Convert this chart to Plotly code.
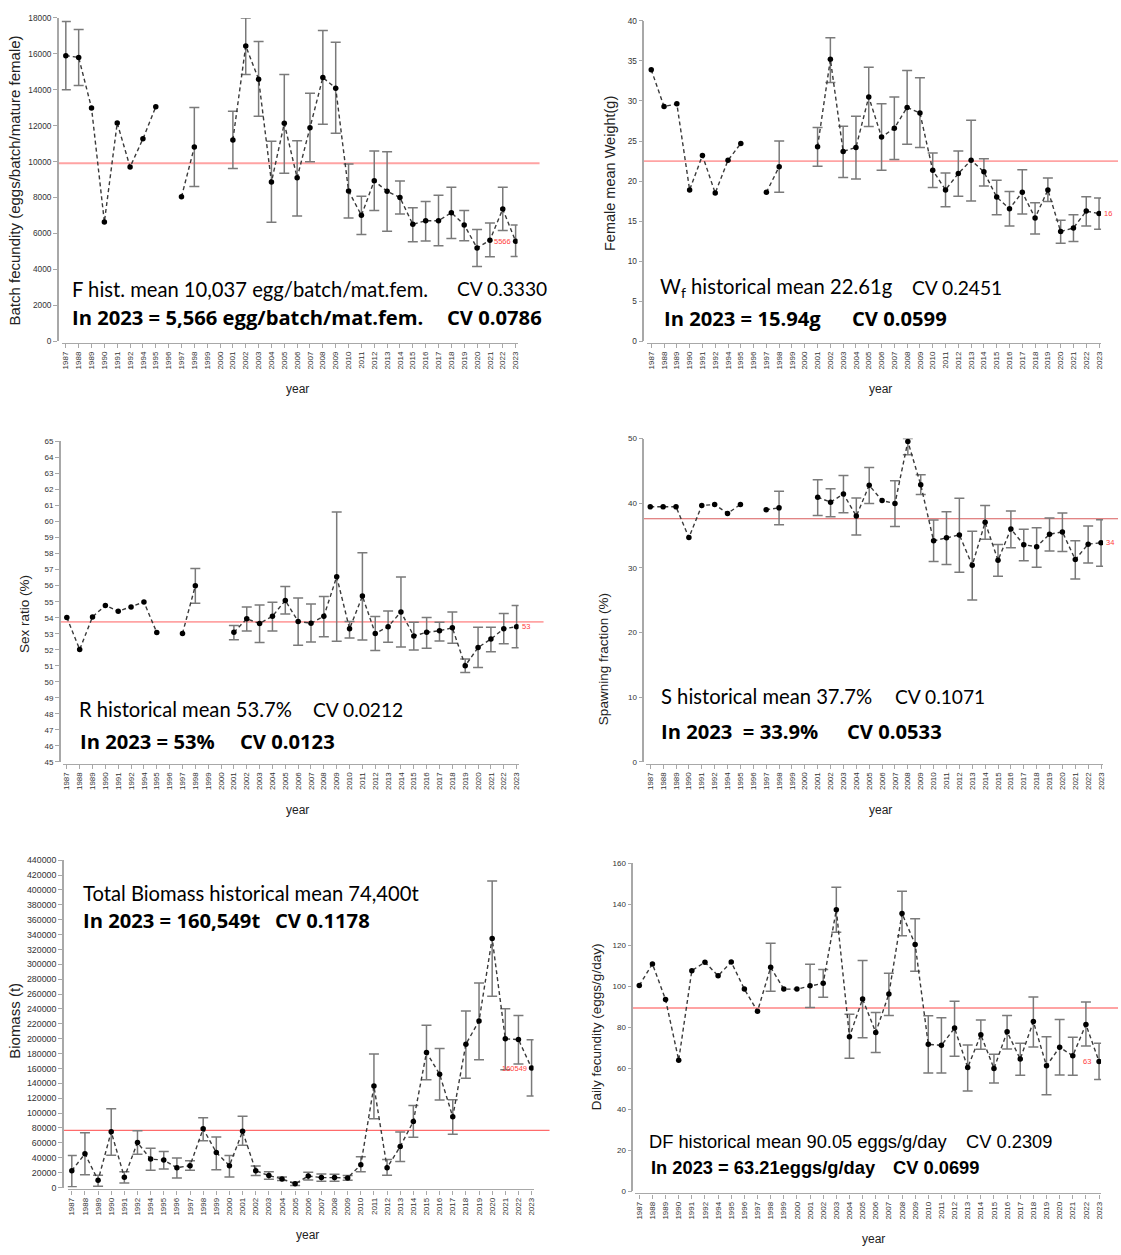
import plotly.graph_objects as go

W, H = 1121, 1255

years = ['1987', '1988', '1989', '1990', '1991', '1992', '1994', '1995', '1996', '1997',
         '1998', '1999', '2000', '2001', '2002', '2003', '2004', '2005', '2006', '2007',
         '2008', '2009', '2010', '2011', '2012', '2013', '2014', '2015', '2016', '2017',
         '2018', '2019', '2020', '2021', '2022', '2023']
N = None

# ---- Batch fecundity (eggs/batch/mature female)
fec_val = [15900, 15800, 12990, 6640, 12150, 9700, 11270, 13060, N, 8040,
           10810, N, N, 11210, 16440, 14590, 8860, 12130, 9100, 11890,
           14680, 14090, 8370, 7010, 8930, 8350, 8000, 6510, 6710, 6710,
           7160, 6480, 5190, 5630, 7360, 5566]
fec_hi = [17800, 17360, N, N, N, N, N, N, N, N,
          13010, N, N, 12810, 18000, 16680, 11140, 14850, 11160, 13800,
          17300, 16640, 9870, 8070, 10590, 10550, 8920, 7430, 7780, 8130,
          8570, 7285, 6220, 6590, 8570, 6480]
fec_lo = [14000, 14240, N, N, N, N, N, N, N, N,
          8610, N, N, 9615, 14850, 12530, 6625, 9360, 6970, 10000,
          12075, 11580, 6860, 5945, 7285, 6130, 7080, 5540, 5580, 5320,
          5725, 5600, 4165, 4700, 6165, 4715]
fec_mean = 9910

# ---- Female mean weight (g)
wf_val = [33.9, 29.3, 29.65, 18.9, 23.2, 18.5, 22.6, 24.7, N, 18.6,
          21.8, N, N, 24.3, 35.2, 23.7, 24.2, 30.5, 25.5, 26.6,
          29.2, 28.5, 21.35, 18.9, 20.95, 22.6, 21.15, 18.0, 16.55, 18.6,
          15.4, 18.9, 13.7, 14.15, 16.25, 15.94]
wf_hi = [N, N, N, N, N, N, N, N, N, N,
         25.0, N, N, 26.7, 37.9, 26.85, 28.1, 34.2, 29.65, 30.5,
         33.8, 32.9, 23.5, 21.0, 23.75, 27.6, 22.8, 20.1, 18.7, 21.4,
         17.3, 20.4, 15.1, 15.8, 18.05, 17.9]
wf_lo = [N, N, N, N, N, N, N, N, N, N,
         18.6, N, N, 21.85, 32.3, 20.45, 20.25, 26.8, 21.35, 22.7,
         24.6, 24.2, 19.2, 16.8, 18.1, 17.5, 19.4, 15.8, 14.4, 15.9,
         13.4, 17.45, 12.25, 12.45, 14.4, 14.0]
wf_mean = 22.5

# ---- Sex ratio (%)
sr_val = [54.01, 52.02, 54.05, 54.77, 54.4, 54.67, 54.98, 53.07, N, 53.02,
          55.99, N, N, 53.09, 53.93, 53.64, 54.09, 55.08, 53.77, 53.66,
          54.09, 56.56, 53.31, 55.35, 53.02, 53.44, 54.36, 52.86, 53.09, 53.19,
          53.37, 51.0, 52.14, 52.67, 53.31, 53.44]
sr_hi = [N, N, N, N, N, N, N, N, N, N,
         57.08, N, N, 53.52, 54.67, 54.8, 54.96, 55.95, 55.23, 54.86,
         55.33, 60.6, 53.77, 58.05, 54.07, 54.42, 56.54, 53.72, 54.01, 53.72,
         54.36, 51.42, 53.4, 53.4, 54.26, 54.77]
sr_lo = [N, N, N, N, N, N, N, N, N, N,
         54.9, N, N, 52.63, 53.17, 52.45, 53.17, 54.24, 52.28, 52.49,
         52.82, 52.53, 52.74, 52.61, 51.95, 52.47, 52.18, 51.98, 52.1, 52.55,
         52.41, 50.58, 50.9, 51.87, 52.37, 52.12]
sr_mean = 53.74

# ---- Spawning fraction (%)
sf_val = [39.44, 39.44, 39.44, 34.69, 39.64, 39.8, 38.42, 39.8, N, 38.98,
          39.29, N, N, 40.92, 40.15, 41.43, 38.01, 42.76, 40.41, 39.95,
          49.54, 42.86, 34.18, 34.64, 35.1, 30.41, 37.04, 31.17, 36.02, 33.57,
          33.27, 35.2, 35.56, 31.28, 33.67, 33.88]
sf_hi = [N, N, N, N, N, N, N, N, N, N,
         41.84, N, N, 43.62, 42.24, 44.29, 40.82, 45.51, N, 43.47,
         50.0, 44.39, 37.4, 38.67, 40.77, 35.66, 39.64, 33.62, 38.78, 35.97,
         36.22, 37.7, 38.47, 34.18, 36.48, 37.45]
sf_lo = [N, N, N, N, N, N, N, N, N, N,
         36.68, N, N, 38.11, 37.91, 38.52, 35.1, 39.95, N, 36.38,
         47.5, 41.33, 30.97, 30.51, 29.34, 25.05, 34.44, 28.72, 33.11, 31.12,
         30.1, 32.6, 32.55, 28.27, 30.77, 30.26]
sf_mean = 37.6

# ---- Biomass (t)
bm_val = [22600, 45300, 9770, 75000, 13760, 60400, 38200, 36850, 26640, 29300,
          79000, 47060, 29300, 75500, 22650, 16000, 11500, 4880, 15500, 13300,
          13300, 12900, 30600, 136300, 26600, 55000, 88800, 181600, 152300, 95000,
          192700, 223800, 334800, 199800, 198900, 160549]
bm_hi = [43000, 73700, 16400, 105700, 21300, 76400, 52800, 48400, 39500, 36000,
         93700, 67900, 43000, 95900, 28900, 21300, 14200, 7100, 20400, 18200,
         17800, 16000, 41300, 179400, 37700, 74600, 110100, 218000, 186900, 118100,
         237100, 274800, 412000, 240200, 231300, 198500]
bm_lo = [900, 17300, 1800, 43500, 6200, 44800, 23100, 24900, 12900, 23100,
         63000, 24000, 14200, 56800, 16000, 11100, 9300, 2700, 10200, 8400,
         8400, 9800, 21300, 92400, 16400, 35000, 67500, 144700, 117700, 71500,
         147000, 171800, 257000, 158100, 166100, 123000]
bm_mean = 76800

# ---- Daily fecundity (eggs/g/day)
df_val = [100.4, 110.9, 93.5, 64.0, 107.6, 111.7, 105.1, 111.8, 98.6, 87.8,
          109.2, 98.6, 98.6, 100.2, 101.5, 137.3, 75.4, 93.8, 77.5, 96.2,
          135.5, 120.4, 71.7, 71.2, 79.6, 60.4, 76.4, 59.9, 77.8, 64.5,
          82.8, 61.2, 70.3, 66.1, 81.4, 63.3]
df_hi = [N, N, N, N, N, N, N, N, N, N,
         121.0, N, N, 110.7, 108.1, 148.2, 86.4, 112.5, 87.2, 106.3,
         146.3, 132.9, 85.6, 84.6, 92.7, 71.4, 83.5, 66.9, 85.7, 72.2,
         94.7, 75.4, 83.8, 75.1, 92.3, 72.2]
df_lo = [N, N, N, N, N, N, N, N, N, N,
         97.6, N, N, 89.7, 94.6, 126.3, 64.9, 74.9, 67.7, 85.7,
         124.6, 107.3, 57.7, 57.7, 65.9, 49.0, 69.3, 52.9, 69.4, 56.6,
         70.4, 47.1, 56.7, 56.6, 70.9, 54.5]
df_mean = 89.4

# ---- texts
txt = {
    1: ("F hist. mean 10,037 egg/batch/mat.fem.", "CV 0.3330",
        "In 2023 = 5,566 egg/batch/mat.fem.", "CV 0.0786", "5566"),
    2: ("W<sub>f</sub> historical mean 22.61g", "CV 0.2451",
        "In 2023 = 15.94g", "CV 0.0599", "16"),
    3: ("R historical mean 53.7%", "CV 0.0212",
        "In 2023 = 53%", "CV 0.0123", "53"),
    4: ("S historical mean 37.7%", "CV 0.1071",
        "In 2023\u00a0 = 33.9%", "CV 0.0533", "34"),
    5: ("Total Biomass historical mean 74,400t", None,
        "In 2023 = 160,549t", "CV 0.1178", "160549"),
    6: ("DF historical mean 90.05 eggs/g/day", "CV 0.2309",
        "In 2023 = 63.21eggs/g/day", "CV 0.0699", "63"),
}
ytitles = {1: "Batch fecundity (eggs/batch/mature female)", 2: "Female mean Weight(g)",
           3: "Sex ratio (%)", 4: "Spawning fraction (%)", 5: "Biomass (t)",
           6: "Daily fecundity (eggs/g/day)"}

series = {1: (fec_val, fec_hi, fec_lo, fec_mean), 2: (wf_val, wf_hi, wf_lo, wf_mean),
          3: (sr_val, sr_hi, sr_lo, sr_mean), 4: (sf_val, sf_hi, sf_lo, sf_mean),
          5: (bm_val, bm_hi, bm_lo, bm_mean), 6: (df_val, df_hi, df_lo, df_mean)}

REG = 'Lato'
BOLD = 'Open Sans'
ARIAL = 'Liberation Sans'

# geometry (pixels)
geo = {
    1: dict(yx=58, yt=13, yb=339, r=(0, 18000), dt=2000, x0=66, x1=517, xs=62, xe=519, me=541,
            t1=(70, 286), c1=456, t2=(70, 315), c2=446, yt_xy=(15, 177), yts=15, year=(298, 387),
            mcol='#ffa3a3', mw=1.8, lab='left', lsh=-3, tk=8.3),
    2: dict(yx=645, yt=16, yb=339, r=(0, 40), dt=5, x0=653, x1=1102, xs=649, xe=1104, me=1121,
            t1=(660, 285), c1=912, t2=(664, 316), c2=852, yt_xy=(611, 170), yts=14.5, year=(883, 387),
            mcol='#ffa3a3', mw=1.8, lab='right', lsh=3, tk=8.3),
    3: dict(yx=60, yt=440, yb=763, r=(45, 65), dt=1, x0=67, x1=518, xs=63, xe=520, me=545,
            t1=(77, 710), c1=312, t2=(78, 742), c2=239, yt_xy=(24, 614), yts=13.5, year=(298, 811),
            mcol='#ffa3a3', mw=1.8, lab='right', lsh=3, tk=8),
    4: dict(yx=645, yt=437, yb=763, r=(0, 50), dt=10, x0=652, x1=1104, xs=648, xe=1106, me=1121,
            t1=(661, 697), c1=895, t2=(661, 732), c2=847, yt_xy=(605, 659), yts=13.5, year=(883, 811),
            mcol='#d95c5c', mw=1.1, lab='right', lsh=3, tk=8),
    5: dict(yx=63, yt=862, yb=1192, r=(0, 440000), dt=20000, x0=72, x1=533, xs=68, xe=535, me=551,
            t1=(81, 895), c1=None, t2=(81, 922), c2=274, yt_xy=(15, 1024), yts=15, year=(308, 1240),
            mcol='#ff6b6b', mw=1.2, lab='left', lsh=-3, tk=8.8),
    6: dict(yx=634, yt=865, yb=1196, r=(0, 160), dt=20, x0=641, x1=1102, xs=637, xe=1104, me=1121,
            t1=(649, 1146), c1=967, t2=(651, 1172), c2=893, yt_xy=(598, 1030), yts=13.5, year=(876, 1244),
            mcol='#ffa3a3', mw=1.8, lab='left', lsh=-6, tk=8),
}


def fx(p):
    return p / W


def fy(p):
    return 1 - p / H


fig = go.Figure()
layout = dict(width=W, height=H, margin=dict(l=0, r=0, t=0, b=0),
              paper_bgcolor='white', plot_bgcolor='rgba(0,0,0,0)', showlegend=False,
              font=dict(family='Liberation Sans, Arial, sans-serif', color='#333'))
annotations = []
shapes = []

n = len(years)
for i in range(1, 7):
    g = geo[i]
    val, hi, lo, mean = series[i]
    xa = 'x' if i == 1 else 'x%d' % i
    ya = 'y' if i == 1 else 'y%d' % i
    xk = 'xaxis' if i == 1 else 'xaxis%d' % i
    yk = 'yaxis' if i == 1 else 'yaxis%d' % i

    # error bars only where available
    ex, ey, eu, el = [], [], [], []
    for yr, v, h, l in zip(years, val, hi, lo):
        if v is not None and h is not None:
            ex.append(yr)
            ey.append(v)
            eu.append(h - v)
            el.append(v - l)
    fig.add_trace(go.Scatter(
        x=ex, y=ey, xaxis=xa, yaxis=ya, mode='markers',
        marker=dict(size=1, color='rgba(0,0,0,0)'),
        error_y=dict(type='data', symmetric=False, array=eu, arrayminus=el,
                     color='#7a7a7a', thickness=1.5, width=5),
        hoverinfo='skip'))
    fig.add_trace(go.Scatter(
        x=years, y=val, xaxis=xa, yaxis=ya, mode='lines+markers',
        connectgaps=False,
        line=dict(color='#3a3a3a', width=1.4, dash='4px,3px'),
        marker=dict(size=5.5, color='black')))

    # axis ranges
    unit = (g['x1'] - g['x0']) / (n - 1)
    rx0 = (g['xs'] - g['x0']) / unit
    rx1 = (n - 1) + (g['xe'] - g['x1']) / unit
    layout[xk] = dict(type='category', categoryorder='array', categoryarray=years,
                      tickmode='array', tickvals=years, ticktext=years,
                      domain=[fx(g['xs']), fx(g['xe'])], range=[rx0, rx1],
                      anchor='free', position=fy(g['yb'] + 2),
                      showline=True, linecolor='#a8a8a8', linewidth=1.3,
                      ticks='outside', ticklen=4, tickcolor='#a8a8a8',
                      tickangle=-90, tickfont=dict(size=8, color='#333'),
                      showgrid=False, zeroline=False, fixedrange=True)
    layout[yk] = dict(domain=[fy(g['yb']), fy(g['yt'])], range=list(g['r']),
                      anchor='free', position=fx(g['yx']),
                      showline=True, linecolor='#a8a8a8', linewidth=1.5,
                      ticks='outside', ticklen=4, tickcolor='#a8a8a8',
                      dtick=g['dt'], tick0=g['r'][0], tickformat='d',
                      tickfont=dict(size=g['tk'], color='#333'),
                      showgrid=False, zeroline=False, fixedrange=True)

    shapes.append(dict(type='line', xref='paper', yref=ya, x0=fx(g['yx']), x1=fx(g['me']),
                       y0=mean, y1=mean, line=dict(color=g['mcol'], width=g['mw']),
                       layer='below'))

    l1, c1, l2, c2, lab = txt[i]
    if i == 6:
        f1, s1, sc, f2, s2 = ARIAL, 18.3, 18.3, ARIAL, 18.3
    else:
        f1, s1, sc, f2, s2 = REG, 20.2, 19.2, BOLD, 20.2
    annotations.append(dict(xref='paper', yref='paper', x=fx(g['t1'][0]), y=fy(g['t1'][1]),
                            text=l1, showarrow=False, xanchor='left', yanchor='middle',
                            font=dict(family=f1, size=s1, color='black')))
    if c1:
        annotations.append(dict(xref='paper', yref='paper', x=fx(g['c1']), y=fy(g['t1'][1]),
                                text=c1, showarrow=False, xanchor='left', yanchor='middle',
                                font=dict(family=f1, size=sc, color='black')))
    annotations.append(dict(xref='paper', yref='paper', x=fx(g['t2'][0]), y=fy(g['t2'][1]),
                            text='<b>%s</b>' % l2, showarrow=False, xanchor='left', yanchor='middle',
                            font=dict(family=f2, size=s2, color='black')))
    annotations.append(dict(xref='paper', yref='paper', x=fx(g['c2']), y=fy(g['t2'][1]),
                            text='<b>%s</b>' % c2, showarrow=False, xanchor='left', yanchor='middle',
                            font=dict(family=f2, size=s2, color='black')))
    # red last value label (x given as category index of the last year)
    annotations.append(dict(xref=xa, yref=ya, x=n - 1, y=val[-1], text=lab, showarrow=False,
                            xanchor='right' if g['lab'] == 'left' else 'left',
                            yanchor='middle', xshift=g['lsh'],
                            font=dict(size=7.5, color='#ff4040')))
    # axis titles
    annotations.append(dict(xref='paper', yref='paper', x=fx(g['yt_xy'][0]), y=fy(g['yt_xy'][1]),
                            text=ytitles[i], showarrow=False, textangle=-90,
                            xanchor='center', yanchor='middle',
                            font=dict(size=g['yts'], color='#222')))
    annotations.append(dict(xref='paper', yref='paper', x=fx(g['year'][0]), y=fy(g['year'][1]),
                            text='year', showarrow=False, xanchor='center', yanchor='middle',
                            font=dict(size=12, color='#222')))

layout['annotations'] = annotations
layout['shapes'] = shapes
fig.update_layout(**layout)

fig.write_html("out.html", config={'displayModeBar': False},
               post_script="document.body.style.margin='0px';")
